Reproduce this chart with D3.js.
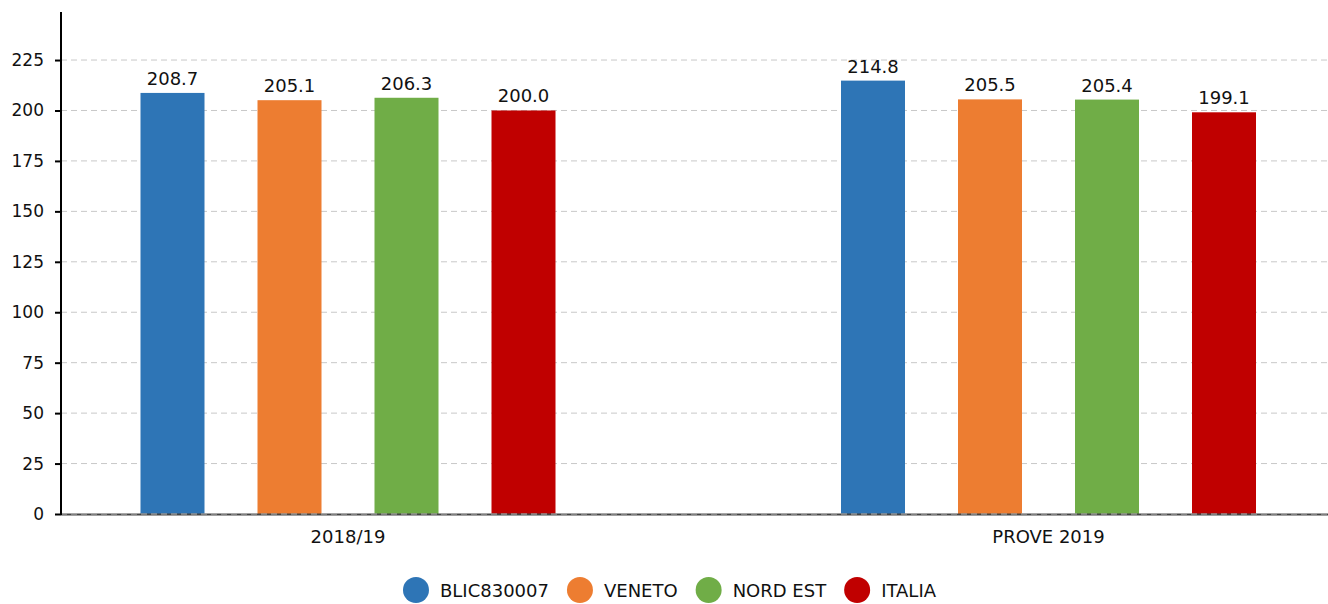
<!DOCTYPE html>
<html>
<head>
<meta charset="utf-8">
<title>Punteggi</title>
<script src="https://d3js.org/d3.v7.min.js"></script>
<style>
  body { margin: 0; background: #fff; }
  svg text { font-family: "DejaVu Sans", Verdana, sans-serif; fill: #111; }
  .grid line { stroke: #c8c8c8; stroke-dasharray: 6,4; }
</style>
</head>
<body>
<svg id="chart"></svg>
<script>
// data
var groups = ['2018/19', 'PROVE 2019']
var series = ['BLIC830007', 'VENETO', 'NORD EST', 'ITALIA']
var colors = ['#2e75b6', '#ed7d31', '#70ad47', '#c00000']
var values = [
  [208.7, 205.1, 206.3, 200.0],
  [214.8, 205.5, 205.4, 199.1]
]
var yTicks = [0, 25, 50, 75, 100, 125, 150, 175, 200, 225]

var W = 1328, H = 604
var mLeft = 61, mRight = 1328, mTop = 9.6, mBottom = 514

var svg = d3.select('#chart').attr('width', W).attr('height', H)

var y = d3.scaleLinear().domain([0, 250]).range([mBottom, mTop])
var x = d3.scalePoint().domain(groups).range([348, 1048.5])
var xs = d3.scaleBand().domain(series).range([-234, 234])
  .paddingInner(0.453).paddingOuter(0.2265)

// gridlines
svg.append('g').attr('class', 'grid')
  .selectAll('line').data(yTicks).join('line')
  .attr('x1', mLeft).attr('x2', mRight)
  .attr('y1', d => y(d)).attr('y2', d => y(d))

// bars
var g = svg.append('g')
groups.forEach(function (grp, gi) {
  series.forEach(function (s, si) {
    var v = values[gi][si]
    g.append('rect')
      .attr('x', x(grp) + xs(s))
      .attr('y', y(v))
      .attr('width', xs.bandwidth())
      .attr('height', y(0) - y(v))
      .attr('fill', colors[si])
    g.append('text')
      .attr('x', x(grp) + xs(s) + xs.bandwidth() / 2)
      .attr('y', y(v) - 8)
      .attr('text-anchor', 'middle')
      .style('font-size', '18px')
      .text(v.toFixed(1))
  })
})

// x baseline
svg.append('line')
  .attr('x1', mLeft).attr('x2', mRight)
  .attr('y1', y(0) + 0.5).attr('y2', y(0) + 0.5)
  .attr('stroke', '#444').attr('stroke-width', 2)
svg.append('line')
  .attr('x1', mLeft).attr('x2', mRight)
  .attr('y1', y(0)).attr('y2', y(0))
  .attr('stroke', '#bbb').attr('stroke-dasharray', '6,4')

// y axis
var yAxis = svg.append('g')
  .attr('transform', `translate(${mLeft},0)`)
  .call(d3.axisLeft(y).tickValues(yTicks).tickSize(6).tickPadding(11))
yAxis.select('.domain').remove()
yAxis.selectAll('.tick line').attr('stroke', '#000').attr('stroke-width', 2)
yAxis.selectAll('.tick text').style('font-size', '17px').attr('fill', '#111')
  .attr('font-family', null)
yAxis.append('line')
  .attr('x1', 0).attr('x2', 0)
  .attr('y1', 12).attr('y2', mBottom + 1)
  .attr('stroke', '#000').attr('stroke-width', 2)

// x labels
svg.append('g').selectAll('text').data(groups).join('text')
  .attr('x', d => x(d))
  .attr('y', 543)
  .attr('text-anchor', 'middle')
  .style('font-size', '18px')
  .text(d => d)

// legend
var leg = svg.append('g')
var cx = 0
series.forEach(function (s, i) {
  var it = leg.append('g').attr('transform', `translate(${cx},0)`)
  it.append('circle').attr('cx', 13).attr('cy', 0).attr('r', 13).attr('fill', colors[i])
  var t = it.append('text').attr('x', 37).attr('y', 6.5)
    .style('font-size', '18px').text(s)
  cx += 37 + t.node().getComputedTextLength() + 18
})
var legW = cx - 18
leg.attr('transform', `translate(${669.5 - legW / 2},590)`)
</script>
</body>
</html>
